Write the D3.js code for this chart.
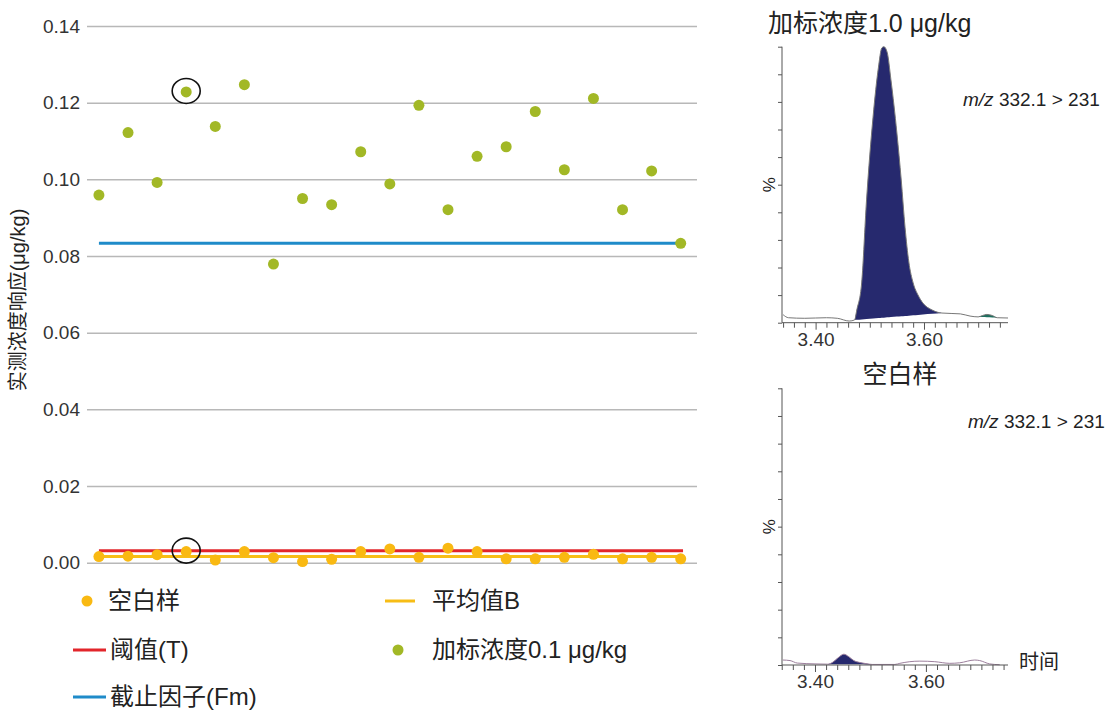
<!DOCTYPE html>
<html>
<head>
<meta charset="utf-8">
<script src="https://cdn.jsdelivr.net/npm/d3@7"></script>
<style>
  body { margin: 0; background: #fff; }
  text { font-family: "Liberation Sans", Arial, "Noto Sans CJK SC", sans-serif; fill: #222; }
</style>
</head>
<body>
<div id="chart"></div>
<script>
// sample numbers 1..21
var samples = d3.range(1, 22);
// 加标浓度0.1 μg/kg measured values
var spiked = [0.0959, 0.1122, 0.0992, 0.1228, 0.1138, 0.1247, 0.0779, 0.0950, 0.0934, 0.1072, 0.0988,
              0.1193, 0.0921, 0.1060, 0.1085, 0.1177, 0.1025, 0.1211, 0.0921, 0.1022, 0.0833];
// 空白样 measured values
var blank = [0.0016, 0.0017, 0.0021, 0.0029, 0.0007, 0.0029, 0.0013, 0.0003, 0.0009, 0.0029, 0.0036,
             0.0014, 0.0038, 0.0029, 0.0010, 0.0010, 0.0014, 0.0022, 0.0010, 0.0014, 0.0010];
var meanB = 0.0016;
var thresholdT = 0.0031;
var cutoffFm = 0.0833;
var yTicks = [0, 0.02, 0.04, 0.06, 0.08, 0.10, 0.12, 0.14];
var circled = 4;

// chromatogram: 加标浓度1.0 μg/kg (time min, %)
var spikeTime = [3.340, 3.350, 3.380, 3.420, 3.440, 3.462, 3.472, 3.476, 3.485, 3.494, 3.506, 3.516, 3.522,
                 3.526, 3.532, 3.539, 3.550, 3.558, 3.565, 3.572, 3.580, 3.589, 3.598, 3.615, 3.633, 3.667,
                 3.685, 3.700, 3.708, 3.716, 3.726, 3.735, 3.755];
var spikePct = [2.9, 1.8, 1.6, 1.8, 1.6, 0.6, 1.0, 4.6, 14.4, 44.5, 74.5, 92.6, 99.5,
                100, 98, 88, 68.7, 51.7, 34.6, 22, 14.4, 10, 7.1, 4.6, 3.5, 3.2,
                2.4, 2.1, 2.6, 3.0, 2.6, 1.8, 1.7];
var spikePeak = [3.472, 3.633];
var spikeSmallPeak = [3.700, 3.735];

// chromatogram: 空白样
var blankTime = [3.342, 3.355, 3.368, 3.400, 3.423, 3.432, 3.441, 3.452, 3.461, 3.470, 3.481, 3.492, 3.503,
                 3.544, 3.553, 3.571, 3.589, 3.616, 3.643, 3.661, 3.688, 3.697, 3.715, 3.733];
var blankPct = [1.8, 1.6, 0.7, 0.4, 0.3, 1.0, 2.5, 3.9, 3.0, 1.6, 0.9, 0.5, 0.2,
                0.2, 0.6, 1.2, 1.4, 1.2, 0.6, 0.8, 1.8, 1.6, 0.4, 0.1];
var blankPeak = [3.423, 3.503];

var timeTicks = d3.range(3.34, 3.755, 0.02);
var timeLabels = [3.40, 3.60];

var svgWidth = 1107, svgHeight = 711;
var svg = d3.select("#chart").append("svg")
  .attr("width", svgWidth)
  .attr("height", svgHeight);

// ---------- left scatter ----------
var xScale = d3.scaleLinear().domain([0.59, 21.56]).range([87, 697]);
var yScale = d3.scaleLinear().domain([0, 0.14]).range([562.7, 26]);

var yAxis = svg.append("g")
  .attr("transform", "translate(87,0)")
  .call(d3.axisLeft(yScale).tickValues(yTicks).tickSize(-610).tickPadding(7).tickFormat(d3.format(".2f")));
yAxis.select(".domain").remove();
yAxis.selectAll(".tick line").attr("stroke", "#b8b8b8").attr("stroke-width", 1.5);
yAxis.selectAll(".tick text").style("font-size", "19px").style("fill", "#333");

svg.append("text")
  .attr("transform", "translate(25,300) rotate(-90)")
  .attr("text-anchor", "middle")
  .style("font-size", "20px")
  .text("实测浓度响应(μg/kg)");

function hline(value, color, x1, x2) {
  svg.append("line")
    .attr("x1", xScale(x1)).attr("x2", xScale(x2))
    .attr("y1", yScale(value)).attr("y2", yScale(value))
    .attr("stroke", color).attr("stroke-width", 3);
}
hline(cutoffFm, "#1f8bc9", 1, 21);
hline(thresholdT, "#e2252b", 1, 21.08);
hline(meanB, "#f7bd16", 1, 21);

svg.selectAll("circle.spiked")
  .data(spiked).enter().append("circle")
  .attr("class", "spiked")
  .attr("cx", (d, i) => xScale(samples[i]))
  .attr("cy", d => yScale(d))
  .attr("r", 5.5)
  .attr("fill", "#a2b826");

svg.selectAll("circle.blank")
  .data(blank).enter().append("circle")
  .attr("class", "blank")
  .attr("cx", (d, i) => xScale(samples[i]))
  .attr("cy", d => yScale(d))
  .attr("r", 5.5)
  .attr("fill", "#f9b912");

[spiked[circled - 1], blank[circled - 1]].forEach(function(v) {
  svg.append("ellipse")
    .attr("cx", xScale(circled))
    .attr("cy", yScale(v) - 1)
    .attr("rx", 14).attr("ry", 12.5)
    .attr("fill", "none").attr("stroke", "#111").attr("stroke-width", 1.6);
});

// legend
var legend = svg.append("g");
function legendText(x, y, label) {
  legend.append("text").attr("x", x).attr("y", y).attr("dy", "0.35em")
    .style("font-size", "24px").text(label);
}
function legendDot(x, y, color) {
  legend.append("circle").attr("cx", x).attr("cy", y).attr("r", 5.5).attr("fill", color);
}
function legendLine(x1, x2, y, color) {
  legend.append("line").attr("x1", x1).attr("x2", x2).attr("y1", y).attr("y2", y)
    .attr("stroke", color).attr("stroke-width", 3);
}
legendDot(87, 601, "#f9b912");
legendText(108, 601, "空白样");
legendLine(385, 415, 601, "#f7bd16");
legendText(432, 601, "平均值B");
legendLine(73, 106, 650, "#e2252b");
legendText(110, 650, "阈值(T)");
legendDot(398, 650, "#a2b826");
legendText(432, 650, "加标浓度0.1 μg/kg");
legendLine(73, 106, 697, "#1f8bc9");
legendText(110, 697, "截止因子(Fm)");

// ---------- chromatograms ----------
function chromatogram(opt) {
  var g = svg.append("g");
  var x = d3.scaleLinear().domain(opt.tDomain).range([782, 1008]);
  var y = d3.scaleLinear().domain([0, 100]).range([opt.bottom, opt.top]);
  var pts = opt.time.map((t, i) => [t, opt.pct[i]]);

  function baseAt(range) {
    var a = pts.find(p => p[0] >= range[0]);
    var b = pts.filter(p => p[0] <= range[1]).pop();
    var lin = d3.scaleLinear().domain([a[0], b[0]]).range([a[1], b[1]]);
    return { pts: pts.filter(p => p[0] >= a[0] && p[0] <= b[0]), lin: lin };
  }
  opt.peaks.forEach(function(pk) {
    var s = baseAt(pk.range);
    g.append("path")
      .datum(s.pts)
      .attr("d", d3.area().curve(d3.curveMonotoneX)
        .x(d => x(d[0])).y0(d => y(s.lin(d[0]))).y1(d => y(d[1])))
      .attr("fill", pk.color);
  });

  g.append("path")
    .datum(pts)
    .attr("d", d3.line().curve(d3.curveMonotoneX).x(d => x(d[0])).y(d => y(d[1])))
    .attr("fill", "none").attr("stroke", opt.traceColor).attr("stroke-width", 1);

  var ya = g.append("g").attr("transform", "translate(782,0)")
    .call(d3.axisLeft(y).tickValues(d3.range(0, 101, 10)).tickSize(4).tickFormat(""));
  ya.selectAll("path,line").attr("stroke", "#555");
  ya.select(".domain").attr("d", "M0," + opt.bottom + "V" + opt.top);

  var xa = g.append("g").attr("transform", "translate(0," + opt.bottom + ")")
    .call(d3.axisBottom(x).tickValues(timeTicks).tickSize(5).tickPadding(5)
      .tickFormat(d => timeLabels.some(v => Math.abs(v - d) < 1e-6) ? d3.format(".2f")(d) : ""));
  xa.selectAll("path,line").attr("stroke", "#555");
  xa.select(".domain").attr("d", "M782,0H1008");
  xa.selectAll(".tick line").attr("y2", d => timeLabels.some(v => Math.abs(v - d) < 1e-6) ? 7 : 5);
  xa.selectAll(".tick text").style("font-size", "19px").style("fill", "#333");

  g.append("text")
    .attr("transform", "translate(775," + y(50) + ") rotate(-90)")
    .attr("text-anchor", "middle")
    .style("font-size", "17px")
    .text("%");

  var mz = g.append("text").attr("x", opt.mzX).attr("y", opt.mzY).style("font-size", "19px");
  mz.append("tspan").style("font-style", "italic").text("m/z");
  mz.append("tspan").text(" 332.1 > 231");

  g.append("text").attr("x", opt.titleX).attr("y", opt.titleY)
    .attr("text-anchor", opt.titleAnchor)
    .style("font-size", "25px").text(opt.title);
}

chromatogram({
  tDomain: [3.338, 3.755], top: 46.7, bottom: 322.7,
  time: spikeTime, pct: spikePct, traceColor: "#777",
  peaks: [{ range: spikePeak, color: "#26296e" }, { range: spikeSmallPeak, color: "#1f6f5f" }],
  title: "加标浓度1.0 μg/kg", titleX: 768, titleY: 32, titleAnchor: "start",
  mzX: 963, mzY: 106
});

chromatogram({
  tDomain: [3.3405, 3.748], top: 388.3, bottom: 665,
  time: blankTime, pct: blankPct, traceColor: "#9c7f9c",
  peaks: [{ range: blankPeak, color: "#26296e" }],
  title: "空白样", titleX: 900, titleY: 383, titleAnchor: "middle",
  mzX: 968, mzY: 428
});

svg.append("text").attr("x", 1019).attr("y", 669).style("font-size", "20px").text("时间");
</script>
</body>
</html>
